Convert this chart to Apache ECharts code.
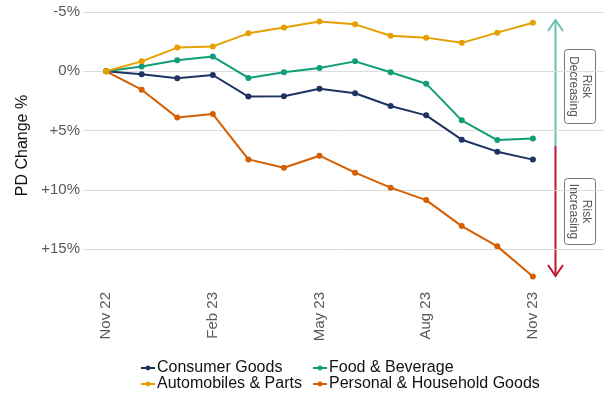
<!DOCTYPE html>
<html>
<head>
<meta charset="utf-8">
<script src="https://cdn.jsdelivr.net/npm/echarts@6/dist/echarts.min.js"></script>
<style>html,body{margin:0;padding:0;background:#fff}#c{width:611px;height:394px}</style>
</head>
<body>
<div id="c"></div>
<script>
const months = ['Nov 22','Dec 22','Jan 23','Feb 23','Mar 23','Apr 23','May 23','Jun 23','Jul 23','Aug 23','Sep 23','Oct 23','Nov 23'];
const tickLabels = ['Nov 22','Feb 23','May 23','Aug 23','Nov 23'];
const tickIndex = [0,3,6,9,12];
const consumerGoods = [0, 0.25, 0.59, 0.31, 2.13, 2.1, 1.46, 1.85, 2.92, 3.71, 5.76, 6.77, 7.44];
const foodBeverage = [0, -0.4, -0.93, -1.24, 0.56, 0.08, -0.28, -0.84, 0.08, 1.04, 4.13, 5.79, 5.65];
const automobiles = [0, -0.84, -2.0, -2.1, -3.2, -3.7, -4.2, -3.96, -3.0, -2.84, -2.4, -3.26, -4.1];
const personalHousehold = [0, 1.55, 3.9, 3.6, 7.42, 8.12, 7.11, 8.54, 9.8, 10.85, 13.04, 14.75, 17.28];
const seriesNames = ['Consumer Goods','Food & Beverage','Automobiles & Parts','Personal & Household Goods'];
const seriesColors = ['#1d3461','#0f9e78','#e69f00','#d55e00'];
const seriesData = [consumerGoods, foodBeverage, automobiles, personalHousehold];

const FONT = '"Liberation Sans", Arial, sans-serif';
const chart = echarts.init(document.getElementById('c'), null, {renderer:'canvas'});
const series = seriesNames.map((n, k) => ({
  name: n, type: 'line',
  data: seriesData[k].map((v, i) => [i, v]),
  symbol: 'circle', symbolSize: 6,
  lineStyle: {width: 2, color: seriesColors[k]},
  itemStyle: {color: seriesColors[k]},
  z: k === 2 ? 3 : 2
}));

const legendCommon = {
  orient: 'vertical', top: 360, height: 34, padding: 0, itemGap: 0, itemWidth: 14, itemHeight: 6,
  textStyle: {fontSize: 16, color: '#111', fontFamily: FONT, lineHeight: 16, padding: [0,0,0,-3]}
};

chart.setOption({
  animation: false,
  backgroundColor: '#fff',
  grid: {left: 83, right: 7, top: 12, bottom: 115, containLabel: false},
  xAxis: {
    type: 'value', min: -0.65, max: 14,
    axisLine: {show: false}, axisTick: {show: false}, splitLine: {show: false},
    axisLabel: {
      customValues: tickIndex, rotate: 90, margin: 13,
      fontSize: 15, color: '#595959', fontFamily: FONT,
      formatter: v => tickLabels[tickIndex.indexOf(Math.round(v))] || ''
    }
  },
  yAxis: {
    type: 'value', inverse: true, min: -5, max: 17.5, interval: 5,
    name: 'PD Change %', nameLocation: 'middle', nameGap: 44,
    nameTextStyle: {fontSize: 16, color: '#111', fontFamily: FONT},
    axisLine: {show: false}, axisTick: {show: false},
    splitLine: {show: true, showMaxLine: false, lineStyle: {color: '#dcdcdc', width: 1}},
    axisLabel: {
      showMaxLabel: false, fontSize: 15, color: '#595959', fontFamily: FONT, margin: 3,
      formatter: v => v < 0 ? v + '%' : (v === 0 ? '0%' : '+' + v + '%')
    }
  },
  legend: [
    Object.assign({left: 140, data: ['Consumer Goods','Automobiles & Parts']}, legendCommon),
    Object.assign({left: 312, data: ['Food & Beverage','Personal & Household Goods']}, legendCommon)
  ],
  series: series,
  graphic: [
    {type: 'line', shape: {x1: 555.5, y1: 20, x2: 555.5, y2: 146}, style: {stroke: '#6cbdb2', lineWidth: 2}},
    {type: 'polyline', shape: {points: [[548, 31], [555.5, 20], [563, 31]]}, style: {stroke: '#6cbdb2', lineWidth: 2, fill: null}},
    {type: 'line', shape: {x1: 555.5, y1: 146, x2: 555.5, y2: 276}, style: {stroke: '#c0152f', lineWidth: 2}},
    {type: 'polyline', shape: {points: [[548, 265], [555.5, 276], [563, 265]]}, style: {stroke: '#c0152f', lineWidth: 2, fill: null}},
    {type: 'rect', shape: {x: 564.5, y: 49.5, width: 31, height: 74, r: 3}, style: {stroke: '#777', fill: '#fff', lineWidth: 1}},
    {type: 'text', x: 580, y: 86.5, rotation: -Math.PI / 2,
     style: {text: 'Risk\nDecreasing', fontSize: 12, fill: '#555', fontFamily: FONT, align: 'center', verticalAlign: 'middle', lineHeight: 13}},
    {type: 'rect', shape: {x: 564.5, y: 178.5, width: 31, height: 66, r: 3}, style: {stroke: '#777', fill: '#fff', lineWidth: 1}},
    {type: 'text', x: 580, y: 211.5, rotation: -Math.PI / 2,
     style: {text: 'Risk\nIncreasing', fontSize: 12, fill: '#555', fontFamily: FONT, align: 'center', verticalAlign: 'middle', lineHeight: 13}}
  ]
});
</script>
</body>
</html>
